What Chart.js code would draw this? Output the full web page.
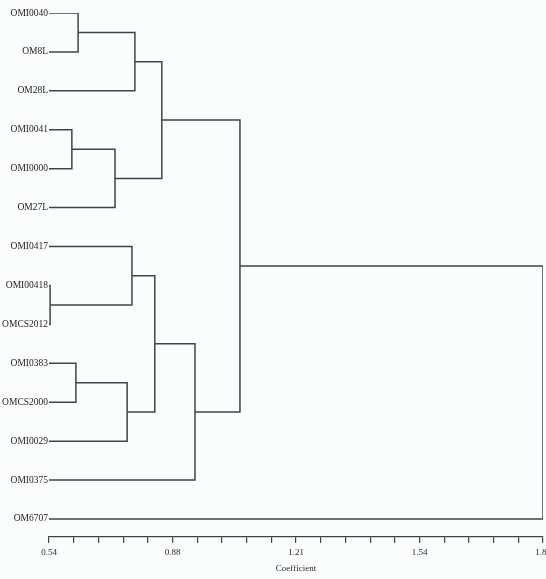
<!DOCTYPE html>
<html>
<head>
<meta charset="utf-8">
<script src="https://cdn.jsdelivr.net/npm/chart.js@4"></script>
<style>
  html, body { margin: 0; padding: 0; background: #fbfdfd; }
  #wrap { width: 546px; height: 579px; }
</style>
</head>
<body>
<div id="wrap"><canvas id="c" width="546" height="579"></canvas></div>
<script>
// Leaves (top to bottom)
const leafLabels = ["OMI0040", "OM8L", "OM28L", "OMI0041", "OMI0000", "OM27L",
  "OMI0417", "OMI00418", "OMCS2012", "OMI0383", "OMCS2000", "OMI0029", "OMI0375", "OM6707"];
// Merge steps: node ids < 14 are leaves, 14+ are earlier merges (in order)
const mergeLeft  = [0, 14, 3, 16, 15, 7, 6, 9, 21, 20, 23, 18, 25];
const mergeRight = [1, 2, 4, 5, 17, 8, 19, 10, 11, 22, 12, 24, 13];
const mergeCoef  = [0.619, 0.773, 0.602, 0.719, 0.846, 0.543, 0.765, 0.613, 0.752, 0.827, 0.936, 1.058, 1.88];
// Axis
const axisMin = 0.54, axisMax = 1.88;
const tickLabels = ["0.54", "0.88", "1.21", "1.54", "1.88"];
const minorPerMajor = 5;

// Build node positions
const nLeaf = leafLabels.length;
const nodeY = [], nodeX = [];
for (let i = 0; i < nLeaf; i++) { nodeY.push(i); nodeX.push(axisMin); }
const datasets = [];
for (let k = 0; k < mergeCoef.length; k++) {
  const a = mergeLeft[k], b = mergeRight[k], h = mergeCoef[k];
  datasets.push({
    data: [
      { x: nodeX[a], y: nodeY[a] },
      { x: h, y: nodeY[a] },
      { x: h, y: nodeY[b] },
      { x: nodeX[b], y: nodeY[b] }
    ],
    showLine: true,
    borderColor: "#3f4444",
    borderWidth: 1.5,
    pointRadius: 0,
    tension: 0
  });
  nodeX.push(h);
  nodeY.push((nodeY[a] + nodeY[b]) / 2);
}

const nMinor = (tickLabels.length - 1) * minorPerMajor;

new Chart(document.getElementById("c"), {
  type: "scatter",
  data: { datasets },
  options: {
    responsive: false,
    animation: false,
    layout: { padding: { top: 13, right: 3, left: 0, bottom: 0 } },
    plugins: { legend: { display: false }, tooltip: { enabled: false } },
    scales: {
      x: {
        type: "linear",
        min: axisMin,
        max: axisMax,
        afterBuildTicks: (s) => {
          const t = [];
          for (let i = 0; i <= nMinor; i++) t.push({ value: axisMin + i * (axisMax - axisMin) / nMinor });
          s.ticks = t;
        },
        afterFit: (s) => { s.height = 42; s.paddingLeft = 0; s.paddingRight = 0; },
        ticks: {
          autoSkip: false, maxRotation: 0, padding: 4,
          color: "#2a2a2a",
          font: { family: "Liberation Serif", size: 9 },
          callback: (v, i) => (i % minorPerMajor === 0 ? tickLabels[i / minorPerMajor] : "")
        },
        grid: { drawOnChartArea: false, drawTicks: true, tickLength: 6, color: "#3f4444", lineWidth: 1.2 },
        border: { display: true, color: "#3f4444", width: 1.3 },
        title: {
          display: true, text: "Coefficient", color: "#2a2a2a",
          font: { family: "Liberation Serif", size: 9 },
          padding: { top: 0, bottom: 5 }
        }
      },
      y: {
        type: "linear",
        reverse: true,
        min: 0,
        max: 13.4625,
        afterBuildTicks: (s) => {
          s.ticks = leafLabels.map((_, i) => ({ value: i }));
        },
        afterFit: (s) => { s.width = 49; s.paddingTop = 0; s.paddingBottom = 0; },
        ticks: {
          autoSkip: false, padding: 1, color: "#1e1e1e",
          font: { family: "Liberation Serif", size: 9.5 },
          callback: (v) => leafLabels[v] !== undefined ? leafLabels[v] : ""
        },
        grid: { display: false, drawTicks: false },
        border: { display: false }
      }
    }
  }
});
</script>
</body>
</html>
